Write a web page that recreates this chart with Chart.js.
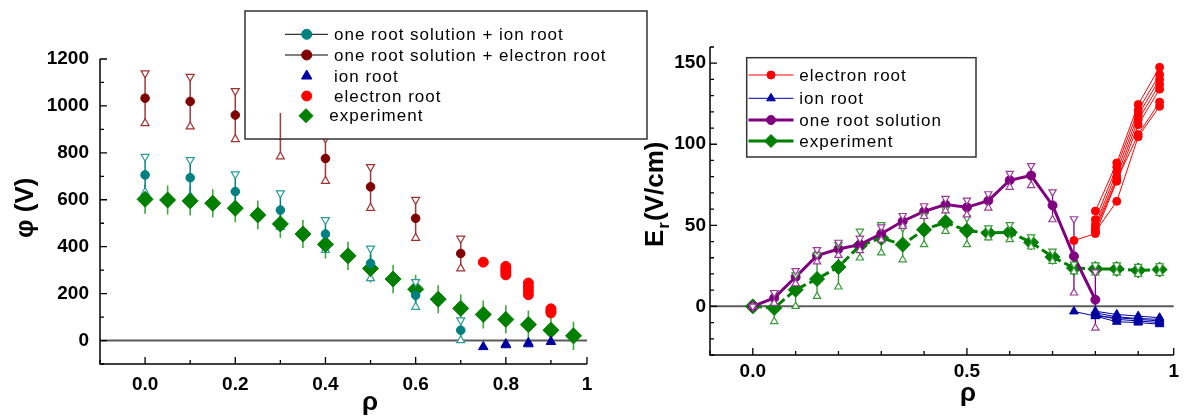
<!DOCTYPE html>
<html><head><meta charset="utf-8">
<script src="https://cdn.jsdelivr.net/npm/chart.js@4.4.1/dist/chart.umd.min.js"></script>
<style>
html,body{margin:0;padding:0;background:#fff;}
#wrap{position:relative;width:1184px;height:417px;overflow:hidden;background:#fff;}
#cL{position:absolute;left:0;top:0;}
#cR{position:absolute;left:620px;top:0;}
</style></head><body>
<div id="wrap"><canvas id="cL" width="660" height="417"></canvas><canvas id="cR" width="564" height="417"></canvas></div>
<script>
// ================= LEFT PANEL : phi (V) vs rho =================
const xTickValsL = [-0.1, 0, 0.1, 0.2, 0.3, 0.4, 0.5, 0.6, 0.7, 0.8, 0.9, 0.98];
const xTickLabelsL = ['', '0.0', '', '0.2', '', '0.4', '', '0.6', '', '0.8', '', '1'];
const yTickValsL = [-100, 0, 100, 200, 300, 400, 500, 600, 700, 800, 900, 1000, 1100, 1200];
const yTickLabelsL = ['', '0', '', '200', '', '400', '', '600', '', '800', '', '1000', '', '1200'];

// one root solution + ion root
const rhoSolL = [0, 0.1, 0.2, 0.3, 0.4, 0.5, 0.6, 0.7];
const phiSolIon = [706, 694, 635, 556, 454, 329, 193, 44];
const phiSolIonHi = [784, 770, 709, 628, 514, 393, 250, 87];
const phiSolIonLo = [632, 616, 561, 484, 385, 265, 143, 1];
// one root solution + electron root
const phiSolEl = [1033, 1019, 961, 875, 776, 655, 521, 371];
const phiSolElHi = [1140, 1125, 1064, 970, 862, 740, 600, 435];
const phiSolElLo = [926, 912, 858, 784, 680, 565, 437, 307];
// ion root
const rhoIonL = [0.75, 0.8, 0.8, 0.85, 0.85, 0.9];
const phiIon = [-27, -15, -19, -10, -15, -5];
// electron root
const rhoElL = [0.75, 0.8, 0.8, 0.8, 0.8, 0.85, 0.85, 0.85, 0.85, 0.9, 0.9, 0.9];
const phiEl = [334, 316, 304, 292, 280, 245, 228, 212, 195, 135, 126, 118];
// experiment
const rhoExpL = [0, 0.05, 0.1, 0.15, 0.2, 0.25, 0.3, 0.35, 0.4, 0.45, 0.5, 0.55, 0.6, 0.65, 0.7, 0.75, 0.8, 0.85, 0.9, 0.95];
const phiExp = [602, 599, 595, 585, 564, 535, 497, 454, 410, 361, 307, 262, 219, 176, 137, 111, 90, 68, 44, 20];
const phiExpErr = [62, 62, 62, 60, 60, 62, 60, 60, 60, 60, 60, 60, 61, 60, 60, 60, 60, 60, 60, 60];

// ================= RIGHT PANEL : Er (V/cm) vs rho =================
const xTickValsR = [-0.1, 0, 0.1, 0.2, 0.3, 0.4, 0.5, 0.6, 0.7, 0.8, 0.9, 0.983];
const xTickLabelsR = ['', '0.0', '', '', '', '', '0.5', '', '', '', '', '1'];
const yTickValsR = [-30, -20, -10, 0, 10, 20, 30, 40, 50, 60, 70, 80, 90, 100, 110, 120, 130, 140, 150, 160];
const yTickLabelsR = ['', '', '', '0', '', '', '', '', '50', '', '', '', '', '100', '', '', '', '', '150', ''];

// one root solution
const rhoSolR = [0, 0.05, 0.1, 0.15, 0.2, 0.25, 0.3, 0.35, 0.4, 0.45, 0.5, 0.55, 0.6, 0.65, 0.7, 0.75, 0.8];
const erSol = [0, 5.2, 18.1, 31.3, 35.4, 38.1, 44.8, 52.5, 58.6, 62.8, 61.1, 65.2, 77.8, 80.7, 62.3, 30.9, 4.1];
const erSolHi = [0, 8.5, 22, 35, 39.5, 42, 49, 56, 62, 66.5, 65.5, 69.4, 82, 86.8, 70.6, 54, 21.2];
const erSolLo = [0, 2, 14, 27.5, 31.5, 34.5, 41, 49.4, 55.5, 59, 56.5, 60.7, 73.5, 74.6, 53.5, 8.3, -13.3];
// experiment
const rhoExpR = [0, 0.05, 0.1, 0.15, 0.2, 0.25, 0.3, 0.35, 0.4, 0.45, 0.5, 0.55, 0.6, 0.65, 0.7, 0.75, 0.8, 0.85, 0.9, 0.95];
const erExp = [0, -1, 10.3, 16.9, 24.3, 37.5, 42.2, 38.1, 47.3, 51.9, 46.7, 45.3, 45.7, 39.5, 30.5, 23.7, 23.1, 23.1, 22.2, 22.7];
const erExpHi = [0, 8.3, 19.6, 31.9, 38.1, 46.3, 50.4, 48.4, 56, 59.7, 54.6, 48.4, 50.4, 42.8, 34, 26, 25.5, 25.5, 24.6, 25];
const erExpLo = [0, -9.3, 0, 6.2, 12, 29.9, 33, 28.8, 38.1, 46.3, 38.1, 42.3, 41.2, 36.7, 27.8, 21.4, 20.7, 20.7, 19.8, 20.4];
// electron root (several solutions)
const rhoElR5 = [0.75, 0.8, 0.85, 0.9, 0.95];
const rhoElR4 = [0.8, 0.85, 0.9, 0.95];
const erEl1 = [40.6, 44.9, 77.2, 112, 134];
const erEl2 = [48.4, 80, 115, 137];
const erEl3 = [50.4, 83, 118, 140];
const erEl4 = [53.5, 86, 121, 143];
const erEl5 = [58.8, 88.5, 124.5, 147.5];
const erEl6 = [46, 64.8, 104.6, 123.4];
const erEl7 = [47, 78, 106, 126];
// ion root (several solutions)
const erIon1 = [-3.1, -6, -7, -8, -9];
const erIon2 = [-3, -5, -6, -7];
const erIon3 = [-4, -6.5, -7.5, -8];
const erIon4 = [-5, -8, -9, -10];
const erIon5 = [-6, -9.5, -10, -11];

// ================= helpers =================
const FONT = '"Liberation Sans", Arial, Helvetica, sans-serif';
const pts = (xs, ys) => xs.map((v, i) => ({x: v, y: ys[i]}));
const plus = (a, e) => a.map((v, i) => v + e[i]);
const minus = (a, e) => a.map((v, i) => v - e[i]);

function drawMarker(ctx, style, r, rot, x, y, fill, stroke, bw) {
  ctx.save();
  ctx.fillStyle = fill; ctx.strokeStyle = stroke; ctx.lineWidth = bw;
  if (Chart.helpers && Chart.helpers.drawPoint) {
    Chart.helpers.drawPoint(ctx, {pointStyle: style, radius: r, rotation: rot, borderWidth: bw}, x, y);
  } else {
    ctx.beginPath(); ctx.arc(x, y, r, 0, Math.PI * 2); ctx.fill();
  }
  ctx.restore();
}

function decor(spec) {
  return {
    id: 'decor' + spec.name,
    beforeDatasetsDraw(chart) {
      const {ctx, chartArea: a, scales: {x, y}} = chart;
      ctx.save();
      const y0 = y.getPixelForValue(0);
      ctx.strokeStyle = '#5a5a5a'; ctx.lineWidth = 2;
      ctx.beginPath(); ctx.moveTo(a.left, y0); ctx.lineTo(a.right, y0); ctx.stroke();
      spec.errors.forEach(e => {
        ctx.strokeStyle = e.color; ctx.lineWidth = e.width;
        ctx.beginPath();
        e.x.forEach((xv, i) => {
          const px = x.getPixelForValue(xv);
          ctx.moveTo(px, y.getPixelForValue(e.lo[i]));
          ctx.lineTo(px, y.getPixelForValue(e.hi[i]));
        });
        ctx.stroke();
      });
      ctx.restore();
    },
    afterDraw(chart) {
      const {ctx, chartArea: a, scales: {x, y}} = chart;
      ctx.save();
      // axes lines
      ctx.strokeStyle = '#000'; ctx.lineWidth = 1.5;
      ctx.beginPath();
      ctx.moveTo(a.left, a.top); ctx.lineTo(a.left, a.bottom); ctx.lineTo(a.right, a.bottom);
      ctx.stroke();
      // inward ticks
      ctx.lineWidth = 1.3;
      ctx.beginPath();
      x.ticks.forEach((t, i) => {
        const px = x.getPixelForValue(t.value);
        const len = spec.xLabels[i] ? 7 : 4;
        ctx.moveTo(px, a.bottom); ctx.lineTo(px, a.bottom - len);
      });
      y.ticks.forEach((t, i) => {
        const py = y.getPixelForValue(t.value);
        const len = spec.yLabels[i] ? 7 : 4;
        ctx.moveTo(a.left, py); ctx.lineTo(a.left + len, py);
      });
      ctx.stroke();
      // titles
      ctx.fillStyle = '#000';
      spec.titles(ctx);
      // legend
      const L = spec.legend;
      ctx.fillStyle = '#fff';
      ctx.fillRect(L.x, L.y, L.w, L.h);
      ctx.strokeStyle = '#333'; ctx.lineWidth = 1.5;
      ctx.strokeRect(L.x, L.y, L.w, L.h);
      L.items.forEach(it => {
        if (it.line) {
          ctx.save();
          ctx.strokeStyle = it.line.color; ctx.lineWidth = it.line.w;
          ctx.beginPath(); ctx.moveTo(it.line.x1, it.y); ctx.lineTo(it.line.x2, it.y); ctx.stroke();
          ctx.restore();
        }
        drawMarker(ctx, it.m.style, it.m.r, it.m.rot || 0, it.mx, it.y, it.m.color, it.m.color, 1);
        ctx.save();
        ctx.fillStyle = '#000';
        ctx.font = '17px ' + FONT;
        try { ctx.letterSpacing = '1px'; } catch (err) {}
        ctx.textBaseline = 'middle'; ctx.textAlign = 'left';
        ctx.fillText(it.text, it.tx, it.y + 1);
        ctx.restore();
      });
      // error lines that show through the legend box (as in the original)
      spec.errors.filter(e => e.overLegend).forEach(e => {
        ctx.save();
        ctx.strokeStyle = e.color; ctx.lineWidth = e.width;
        ctx.beginPath();
        e.x.forEach((xv, i) => {
          const px = x.getPixelForValue(xv);
          const top = y.getPixelForValue(e.hi[i]);
          const bot = L.y + L.h;
          if (px > L.x && px < L.x + L.w && top < bot) {
            ctx.moveTo(px, Math.max(top, L.y)); ctx.lineTo(px, bot);
          }
        });
        ctx.stroke();
        ctx.restore();
      });
      ctx.restore();
    }
  };
}

function axisX(min, max, vals, labels, h, pad) {
  return {
    type: 'linear', min: min, max: max,
    afterBuildTicks: s => { s.ticks = vals.map(v => ({value: v})); },
    afterFit: s => { s.height = h; },
    grid: {display: false, drawTicks: false},
    border: {display: false},
    ticks: {autoSkip: false, maxRotation: 0, minRotation: 0, padding: pad, color: '#000',
      font: {family: FONT, size: 19, weight: 'bold'},
      callback: (v, i) => labels[i]}
  };
}
function axisY(min, max, vals, labels, w, pad) {
  return {
    type: 'linear', min: min, max: max,
    afterBuildTicks: s => { s.ticks = vals.map(v => ({value: v})); },
    afterFit: s => { s.width = w; },
    grid: {display: false, drawTicks: false},
    border: {display: false},
    ticks: {autoSkip: false, padding: pad, color: '#000',
      font: {family: FONT, size: 19, weight: 'bold'},
      callback: (v, i) => labels[i]}
  };
}
function tri(data, up, color, r) {
  return {data: data, pointStyle: 'triangle', pointRotation: up ? 0 : 180, pointRadius: r,
    pointBackgroundColor: '#fff', pointBorderColor: color, pointBorderWidth: 1.2, showLine: false};
}
function dots(data, style, r, color) {
  return {data: data, pointStyle: style, pointRadius: r, pointBackgroundColor: color,
    pointBorderColor: color, pointBorderWidth: 1, showLine: false};
}

const TEAL = '#008080', DRED = '#800000', BLUE = '#0000a0', RED = '#ff0000', GREEN = '#007f00', PURPLE = '#800080';

// ================= LEFT CHART =================
new Chart(document.getElementById('cL'), {
  type: 'scatter',
  data: {datasets: [
    tri(pts(rhoSolL, phiSolIonHi), false, '#2a9c9c', 4.6),
    tri(pts(rhoSolL, phiSolElHi), false, '#a03030', 4.6),
    tri(pts(rhoSolL, phiSolElLo), true, '#a03030', 4.6),
    dots(pts(rhoSolL, phiSolIon), 'circle', 4.3, TEAL),
    dots(pts(rhoSolL, phiSolEl), 'circle', 4.3, DRED),
    dots(pts(rhoElL, phiEl), 'circle', 5, RED),
    dots(pts(rhoIonL, phiIon), 'triangle', 5.5, BLUE),
    dots(pts(rhoExpL, phiExp), 'rectRot', 8, GREEN),
    tri(pts(rhoSolL, phiSolIonLo), true, '#2a9c9c', 4.6)
  ]},
  options: {
    responsive: false, animation: false, events: [],
    layout: {padding: {top: 59, right: 73, left: 0, bottom: 0}},
    plugins: {legend: {display: false}, tooltip: {enabled: false}},
    scales: {
      x: axisX(-0.1, 0.98, xTickValsL, xTickLabelsL, 53, 9),
      y: axisY(-100, 1200, yTickValsL, yTickLabelsL, 100, 11)
    }
  },
  plugins: [decor({
    name: 'L', xLabels: xTickLabelsL, yLabels: yTickLabelsL,
    errors: [
      {x: rhoExpL, lo: minus(phiExp, phiExpErr), hi: plus(phiExp, phiExpErr), color: '#3fa83f', width: 1.6},
      {x: rhoSolL, lo: phiSolIonLo, hi: phiSolIonHi, color: TEAL, width: 1.5},
      {x: rhoSolL, lo: phiSolElLo, hi: phiSolElHi, color: '#a03a3a', width: 1.5, overLegend: true}
    ],
    titles: ctx => {
      ctx.save();
      ctx.font = 'bold 26px ' + FONT;
      ctx.translate(33, 238); ctx.rotate(-Math.PI / 2);
      ctx.textAlign = 'left'; ctx.textBaseline = 'alphabetic';
      ctx.fillText('\u03C6 (V)', 0, 0);
      ctx.restore();
      ctx.save();
      ctx.font = 'bold 26px ' + FONT; ctx.textAlign = 'center'; ctx.textBaseline = 'alphabetic';
      ctx.fillText('\u03C1', 370, 410);
      ctx.restore();
    },
    legend: {x: 245, y: 11, w: 402, h: 128, items: [
      {y: 34.3, line: {x1: 285, x2: 328, color: '#000', w: 1}, m: {style: 'circle', r: 5, color: TEAL}, mx: 306.7, tx: 334, text: 'one root solution + ion root'},
      {y: 55, line: {x1: 285, x2: 328, color: '#000', w: 1}, m: {style: 'circle', r: 5, color: DRED}, mx: 306.7, tx: 334, text: 'one root solution + electron root'},
      {y: 76, m: {style: 'triangle', r: 6, color: BLUE}, mx: 306.7, tx: 334, text: 'ion root'},
      {y: 96, m: {style: 'circle', r: 5, color: RED}, mx: 306.7, tx: 334, text: 'electron root'},
      {y: 115.7, m: {style: 'rectRot', r: 7, color: GREEN}, mx: 306, tx: 329.3, text: 'experiment'}
    ]}
  })]
});

// ================= RIGHT CHART =================
function thinLine(data, color, style, r) {
  return {data: data, showLine: true, borderColor: color, borderWidth: 1, pointStyle: style, pointRadius: r,
    pointBackgroundColor: color, pointBorderColor: color, pointBorderWidth: 1};
}
new Chart(document.getElementById('cR'), {
  type: 'scatter',
  data: {datasets: [
    tri(pts(rhoSolR, erSolHi), false, '#9a3a9a', 4.2),
    tri(pts(rhoSolR, erSolLo), true, '#9a3a9a', 4.2),
    tri(pts(rhoExpR, erExpHi), false, '#3a9a3a', 4.2),
    tri(pts(rhoExpR, erExpLo), true, '#3a9a3a', 4.2),
    thinLine(pts(rhoElR5, erEl1), RED, 'circle', 4),
    thinLine(pts(rhoElR4, erEl2), RED, 'circle', 4),
    thinLine(pts(rhoElR4, erEl3), RED, 'circle', 4),
    thinLine(pts(rhoElR4, erEl4), RED, 'circle', 4),
    thinLine(pts(rhoElR4, erEl5), RED, 'circle', 4),
    thinLine(pts(rhoElR4, erEl6), RED, 'circle', 4),
    thinLine(pts(rhoElR4, erEl7), RED, 'circle', 4),
    thinLine(pts(rhoElR5, erIon1), BLUE, 'triangle', 5),
    thinLine(pts(rhoElR4, erIon2), BLUE, 'triangle', 5),
    thinLine(pts(rhoElR4, erIon3), BLUE, 'triangle', 5),
    thinLine(pts(rhoElR4, erIon4), BLUE, 'triangle', 5),
    thinLine(pts(rhoElR4, erIon5), BLUE, 'triangle', 5),
    {data: pts(rhoSolR, erSol), showLine: true, borderColor: PURPLE, borderWidth: 3, pointStyle: 'circle', pointRadius: 4.5,
      pointBackgroundColor: PURPLE, pointBorderColor: PURPLE, pointBorderWidth: 1},
    {data: pts(rhoExpR, erExp), showLine: true, borderColor: GREEN, borderWidth: 3, borderDash: [9, 4], pointStyle: 'rectRot', pointRadius: 7.5,
      pointBackgroundColor: GREEN, pointBorderColor: GREEN, pointBorderWidth: 1}
  ]},
  options: {
    responsive: false, animation: false, events: [],
    layout: {padding: {top: 47, right: 6, left: 0, bottom: 0}},
    plugins: {legend: {display: false}, tooltip: {enabled: false}},
    scales: {
      x: axisX(-0.1, 0.983, xTickValsR, xTickLabelsR, 62, 5),
      y: axisY(-30, 160, yTickValsR, yTickLabelsR, 90, 4)
    }
  },
  plugins: [decor({
    name: 'R', xLabels: xTickLabelsR, yLabels: yTickLabelsR,
    errors: [
      {x: rhoSolR, lo: erSolLo, hi: erSolHi, color: PURPLE, width: 1.3},
      {x: rhoExpR, lo: erExpLo, hi: erExpHi, color: '#2e8f2e', width: 1.3}
    ],
    titles: ctx => {
      ctx.save();
      ctx.translate(43, 247); ctx.rotate(-Math.PI / 2);
      ctx.textAlign = 'left'; ctx.textBaseline = 'alphabetic';
      ctx.font = 'bold 26px ' + FONT;
      ctx.fillText('E', 0, 0);
      const w = ctx.measureText('E').width;
      ctx.font = 'bold 17px ' + FONT;
      ctx.fillText('r', w + 1, 6);
      const rw = ctx.measureText('r').width;
      ctx.font = 'bold 26px ' + FONT;
      ctx.fillText('(V/cm)', w + rw + 2, 0);
      ctx.restore();
      ctx.save();
      ctx.font = 'bold 26px ' + FONT; ctx.textAlign = 'center'; ctx.textBaseline = 'alphabetic';
      ctx.fillText('\u03C1', 348, 401);
      ctx.restore();
    },
    legend: {x: 126.7, y: 57.7, w: 229.3, h: 99.3, items: [
      {y: 75, line: {x1: 128.5, x2: 173.5, color: RED, w: 1}, m: {style: 'circle', r: 4, color: RED}, mx: 151, tx: 179.3, text: 'electron root'},
      {y: 98.3, line: {x1: 128.5, x2: 173.5, color: BLUE, w: 1}, m: {style: 'triangle', r: 5, color: BLUE}, mx: 151, tx: 179.3, text: 'ion root'},
      {y: 120, line: {x1: 128.5, x2: 173.5, color: PURPLE, w: 3}, m: {style: 'circle', r: 4.5, color: PURPLE}, mx: 151, tx: 179.3, text: 'one root solution'},
      {y: 141, line: {x1: 128.5, x2: 173.5, color: GREEN, w: 3}, m: {style: 'rectRot', r: 6.5, color: GREEN}, mx: 151, tx: 179.3, text: 'experiment'}
    ]}
  })]
});
</script>
</body></html>
